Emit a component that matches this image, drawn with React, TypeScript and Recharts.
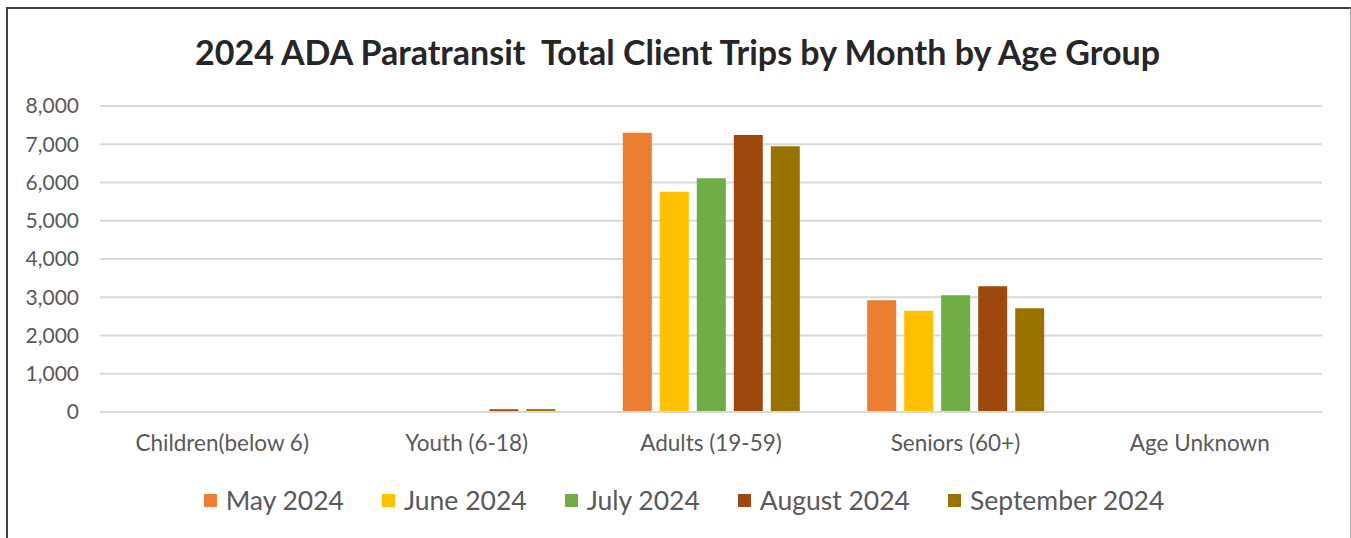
import { BarChart, Bar, XAxis, YAxis, CartesianGrid, Legend } from 'recharts';

const ageGroups = ['Children(below 6)', 'Youth (6-18)', 'Adults (19-59)', 'Seniors (60+)', 'Age Unknown'];

const may2024 = [0, 0, 7300, 2920, 0];
const june2024 = [0, 0, 5760, 2650, 0];
const july2024 = [0, 0, 6110, 3050, 0];
const august2024 = [0, 75, 7240, 3290, 0];
const september2024 = [0, 75, 6950, 2710, 0];

const yTicks = [0, 1000, 2000, 3000, 4000, 5000, 6000, 7000, 8000];

const series = [
  { key: 'may', name: 'May 2024', values: may2024, color: '#ED7D31' },
  { key: 'june', name: 'June 2024', values: june2024, color: '#FFC000' },
  { key: 'july', name: 'July 2024', values: july2024, color: '#70AD47' },
  { key: 'august', name: 'August 2024', values: august2024, color: '#9E480E' },
  { key: 'september', name: 'September 2024', values: september2024, color: '#997300' },
];

const data = ageGroups.map((group, i) => {
  const row: Record<string, string | number> = { group };
  series.forEach((s) => {
    row[s.key] = s.values[i];
  });
  return row;
});

const FONT = 'Lato, "Open Sans", sans-serif';
const TEXT = '#595959';

function LegendRow() {
  return (
    <div style={{ display: 'flex', justifyContent: 'center', alignItems: 'center', height: 40, paddingLeft: 17 }}>
      {series.map((s) => (
        <div key={s.key} style={{ display: 'flex', alignItems: 'center', margin: '0 19px' }}>
          <span style={{ width: 13, height: 13, background: s.color, marginRight: 9, display: 'inline-block' }} />
          <span style={{ fontFamily: FONT, fontSize: 26.5, color: TEXT }}>{s.name}</span>
        </div>
      ))}
    </div>
  );
}

export default function App() {
  return (
    <div style={{ position: 'absolute', left: 0, top: 0, width: 1351, height: 538, background: '#fff', overflow: 'hidden' }}>
      <div
        style={{
          position: 'absolute',
          left: 6,
          top: 7,
          width: 1342,
          height: 560,
          borderLeft: '2px solid #404040',
          borderTop: '2px solid #404040',
          borderRight: '1px solid #a6a6a6',
        }}
      />
      <div
        style={{
          position: 'absolute',
          left: 0,
          width: 1355,
          top: 31,
          textAlign: 'center',
          fontFamily: FONT,
          fontWeight: 700,
          fontSize: 34,
          color: '#262626',
          whiteSpace: 'pre',
        }}
      >
        {'2024 ADA Paratransit  Total Client Trips by Month by Age Group'}
      </div>
      <BarChart
        width={1351}
        height={538}
        data={data}
        margin={{ top: 106, right: 29, left: 0, bottom: 18 }}
        barSize={29}
        barGap={8}
        style={{ position: 'absolute', left: 0, top: 0 }}
      >
        <CartesianGrid vertical={false} stroke="#d9d9d9" strokeWidth={2} />
        <XAxis
          dataKey="group"
          height={68}
          tickLine={false}
          axisLine={{ stroke: '#d9d9d9', strokeWidth: 2 }}
          tick={{ fill: TEXT, fontSize: 22.5, fontFamily: FONT }}
          tickMargin={17}
          interval={0}
        />
        <YAxis
          width={100}
          domain={[0, 8000]}
          ticks={yTicks}
          tickLine={false}
          axisLine={false}
          tickMargin={15}
          tick={{ fill: TEXT, fontSize: 21, fontFamily: FONT }}
          tickFormatter={(v: number) => v.toLocaleString('en-US')}
        />
        <Legend
          verticalAlign="bottom"
          height={40}
          wrapperStyle={{ left: 0, width: 1351 }}
          content={() => <LegendRow />}
        />
        {series.map((s) => (
          <Bar key={s.key} dataKey={s.key} name={s.name} fill={s.color} isAnimationActive={false} />
        ))}
      </BarChart>
    </div>
  );
}
